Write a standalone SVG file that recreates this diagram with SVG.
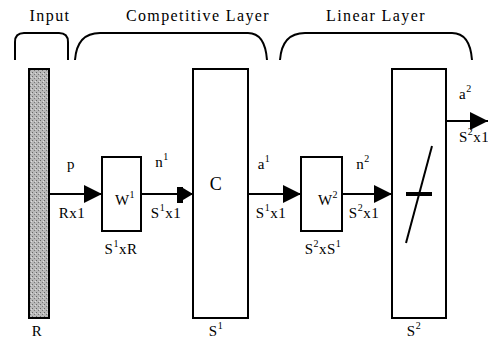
<svg xmlns="http://www.w3.org/2000/svg" width="488" height="340" viewBox="0 0 488 340">
<defs>
<style>
text{font-family:"Liberation Serif","Times New Roman",serif;font-size:15px;fill:#000;letter-spacing:0.5px}
.t{font-size:16px;letter-spacing:1.4px}
.sup{font-size:10px}
.box{fill:#fff;stroke:#000;stroke-width:2}
.br{fill:none;stroke:#000;stroke-width:2}
.ln{stroke:#000;stroke-width:2;fill:none}
</style>
<pattern id="dots" width="4" height="4" patternUnits="userSpaceOnUse">
<rect width="4" height="4" fill="#b8b8b8"/>
<rect x="0" y="0" width="1" height="1" fill="#666"/>
<rect x="2" y="2" width="1" height="1" fill="#777"/>
<rect x="3" y="1" width="1" height="1" fill="#ddd"/>
</pattern>
</defs>
<rect width="488" height="340" fill="#fff"/>
<g id="titles">
<text class="t" x="50" y="21" text-anchor="middle">Input</text>
<text class="t" x="198" y="21" text-anchor="middle">Competitive Layer</text>
<text class="t" x="376" y="21" text-anchor="middle">Linear Layer</text>
</g>
<g id="brackets">
<path class="br" d="M15,60 L15,42 Q15,33 24,33 L59,33 Q68,33 68,42 L68,60"/>
<path class="br" d="M75,60 Q77,33 100,33 L248,33 Q265,33 267,60"/>
<path class="br" d="M280,60 Q282,33 305,33 L452,33 Q470,33 472,60"/>
</g>
<g id="connectors">
<line class="ln" x1="50" y1="194" x2="102" y2="194"/>
<path d="M84,185 L102,194 L84,203 Z" fill="#000"/>
<line class="ln" x1="141" y1="194" x2="193" y2="194"/>
<rect x="177" y="187" width="6" height="16" fill="#000"/>
<path d="M183,188 L193,194 L183,200 Z" fill="#000"/>
<line class="ln" x1="248" y1="194" x2="301" y2="194"/>
<path d="M283,185 L301,194 L283,203 Z" fill="#000"/>
<line class="ln" x1="342" y1="194" x2="392" y2="194"/>
<path d="M374,185 L392,194 L374,203 Z" fill="#000"/>
<line class="ln" x1="446" y1="121" x2="488" y2="121"/>
<path d="M470,112 L488,121 L470,130 Z" fill="#000"/>
</g>
<g id="input">
<rect x="29" y="69" width="20" height="249" fill="url(#dots)" stroke="#000" stroke-width="2"/>
<text x="37" y="336" text-anchor="middle">R</text>
</g>
<g id="w1">
<rect class="box" x="102" y="157" width="39" height="74"/>
<text x="125" y="205" text-anchor="middle">W<tspan class="sup" dy="-7">1</tspan></text>
<text x="121" y="254" text-anchor="middle">S<tspan class="sup" dy="-7">1</tspan><tspan dy="7">xR</tspan></text>
</g>
<g id="compet">
<rect class="box" x="193" y="69" width="55" height="249"/>
<text x="216" y="190" text-anchor="middle" style="font-size:18px">C</text>
<text x="216" y="336" text-anchor="middle">S<tspan class="sup" dy="-7">1</tspan></text>
</g>
<g id="w2">
<rect class="box" x="301" y="157" width="41" height="74"/>
<text x="328" y="205" text-anchor="middle">W<tspan class="sup" dy="-7">2</tspan></text>
<text x="323" y="254" text-anchor="middle">S<tspan class="sup" dy="-7">2</tspan><tspan dy="7">xS</tspan><tspan class="sup" dy="-7">1</tspan></text>
</g>
<g id="linear">
<rect class="box" x="392" y="69" width="54" height="249"/>
<line x1="432" y1="146" x2="406" y2="243" stroke="#000" stroke-width="2"/>
<line x1="406" y1="194" x2="432" y2="194" stroke="#000" stroke-width="4"/>
<text x="414" y="336" text-anchor="middle">S<tspan class="sup" dy="-7">2</tspan></text>
</g>
<g id="labels">
<text x="71" y="169" text-anchor="middle">p</text>
<text x="72" y="218" text-anchor="middle">Rx1</text>
<text x="162" y="167" text-anchor="middle">n<tspan class="sup" dy="-7">1</tspan></text>
<text x="166" y="218" text-anchor="middle">S<tspan class="sup" dy="-7">1</tspan><tspan dy="7">x1</tspan></text>
<text x="264" y="169" text-anchor="middle">a<tspan class="sup" dy="-7">1</tspan></text>
<text x="271" y="218" text-anchor="middle">S<tspan class="sup" dy="-7">1</tspan><tspan dy="7">x1</tspan></text>
<text x="363" y="169" text-anchor="middle">n<tspan class="sup" dy="-7">2</tspan></text>
<text x="364" y="218" text-anchor="middle">S<tspan class="sup" dy="-7">2</tspan><tspan dy="7">x1</tspan></text>
<text x="459" y="99">a<tspan class="sup" dy="-7">2</tspan></text>
<text x="459" y="142">S<tspan class="sup" dy="-7">2</tspan><tspan dy="7">x1</tspan></text>
</g>
</svg>
